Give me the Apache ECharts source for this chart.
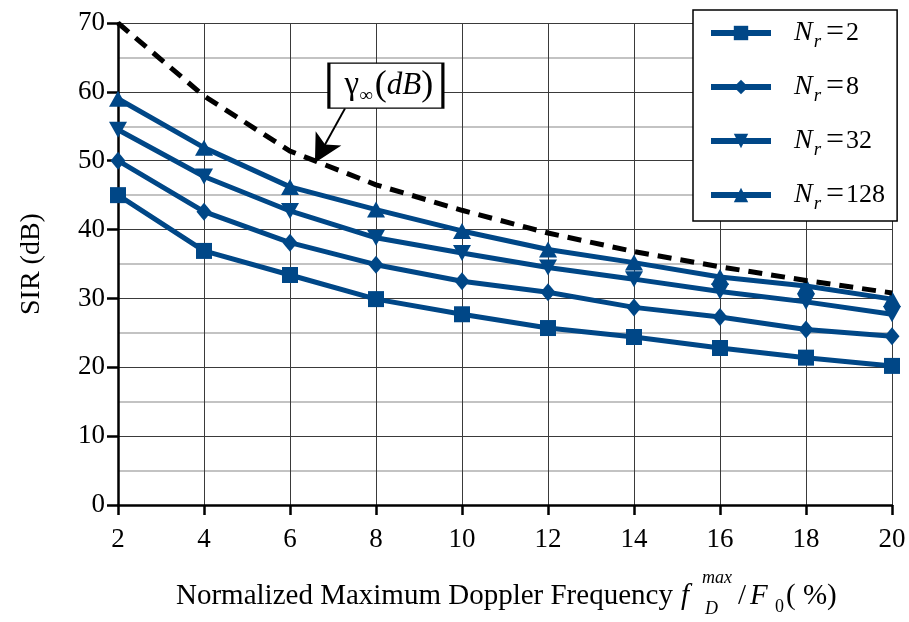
<!DOCTYPE html>
<html>
<head>
<meta charset="utf-8">
<script src="https://cdn.jsdelivr.net/npm/echarts@6/dist/echarts.min.js"></script>
<style>html,body{margin:0;padding:0;background:#fff}#c{width:909px;height:622px}</style>
</head>
<body>
<div id="c"></div>
<script>
const xValues = [2, 4, 6, 8, 10, 12, 14, 16, 18, 20];
const nr2   = [45.0, 36.9, 33.4, 29.9, 27.7, 25.7, 24.4, 22.8, 21.4, 20.2];
const nr8   = [50.0, 42.6, 38.1, 34.9, 32.5, 30.9, 28.7, 27.3, 25.5, 24.5];
const nr32  = [54.5, 47.7, 42.7, 38.8, 36.6, 34.5, 32.8, 31.0, 29.5, 27.7];
const nr128 = [59.0, 51.9, 46.2, 42.9, 39.8, 37.1, 35.2, 33.1, 31.8, 29.9];
const gammaInf = [70.0, 59.4, 51.4, 46.5, 42.8, 39.5, 36.8, 34.6, 32.6, 30.8];
const seriesNames = ['Nr=2', 'Nr=8', 'Nr=32', 'Nr=128'];
const legendNumbers = ['2', '8', '32', '128'];
const yTicks = [0, 10, 20, 30, 40, 50, 60, 70];
const annotBox = [8.23, 60.9];
const arrowFrom = [7.28, 57.6];
const arrowTo = [6.58, 49.7];

const BLUE = '#004787';
const FONT = '"Liberation Serif", "Times New Roman", serif';
const pair = arr => xValues.map((x, i) => [x, arr[i]]);

const chart = echarts.init(document.getElementById('c'), null, {renderer: 'canvas'});

function lineSeries(name, data, symbol, size, rotate) {
  return {
    name, type: 'line', data: pair(data),
    symbol, symbolSize: size, symbolRotate: rotate || 0,
    showSymbol: true,
    lineStyle: {color: BLUE, width: 5},
    itemStyle: {color: BLUE, borderWidth: 0},
    emphasis: {disabled: true},
    animation: false, z: 3
  };
}

const txt = (text, x, y, size, italic, extra) => Object.assign({
  type: 'text', x, y,
  style: {text, x: 0, y: 0, fontFamily: FONT, fontSize: size, fontStyle: italic ? 'italic' : 'normal',
    fill: '#000', verticalAlign: 'middle'}
}, extra || {});

const option = {
  animation: false,
  backgroundColor: '#fff',
  grid: {left: 118, right: 17, top: 23, bottom: 117},
  xAxis: {
    type: 'value', min: 2, max: 20, interval: 2,
    axisLine: {show: true, onZero: false, lineStyle: {color: '#000', width: 2.5}},
    axisTick: {show: true, length: 10, lineStyle: {color: '#000', width: 2.5}},
    axisLabel: {color: '#000', fontFamily: FONT, fontSize: 27, margin: 21},
    splitLine: {show: true, lineStyle: {color: '#3a3a3a', width: 1}}
  },
  yAxis: {
    type: 'value', min: 0, max: 70, interval: 10, splitNumber: 7,
    axisLine: {show: true, lineStyle: {color: '#000', width: 2.5}},
    axisTick: {show: true, length: 11, lineStyle: {color: '#000', width: 2.5}},
    axisLabel: {color: '#000', fontFamily: FONT, fontSize: 27, margin: 13,
      formatter: v => yTicks.includes(v) ? String(v) : ''},
    splitLine: {show: true, lineStyle: {color: '#3a3a3a', width: 1}},
    minorTick: {show: false, splitNumber: 2},
    minorSplitLine: {show: true, lineStyle: {color: '#b0b0b0', width: 1.5}}
  },
  legend: {
    data: seriesNames,
    orient: 'vertical', left: 693, top: 10,
    padding: [7, 12, 8, 15],
    itemWidth: 60, itemHeight: 18, itemGap: 20,
    lineStyle: {width: 6},
    backgroundColor: '#fff', borderColor: '#000', borderWidth: 1.5, borderRadius: 0,
    formatter: name => '{n|N}{s|r}{e|=}{v|' + legendNumbers[seriesNames.indexOf(name)] + '}',
    textStyle: {
      color: '#000', fontFamily: FONT,
      rich: {
        n: {fontFamily: FONT, fontStyle: 'italic', fontSize: 28, color: '#000', padding: [0, 0, 0, 18], lineHeight: 36, verticalAlign: 'middle'},
        s: {fontFamily: FONT, fontStyle: 'italic', fontSize: 19, color: '#000', lineHeight: 2, verticalAlign: 'bottom', padding: [0, 5, 0, 1]},
        e: {fontFamily: FONT, fontSize: 32, color: '#000', lineHeight: 36, verticalAlign: 'middle', padding: [0, 2, 0, 0]},
        v: {fontFamily: FONT, fontSize: 26, color: '#000', lineHeight: 36, verticalAlign: 'middle'}
      }
    }
  },
  series: [
    {
      name: 'gamma', type: 'line', data: pair(gammaInf),
      symbol: 'none', z: 4,
      lineStyle: {color: '#000', width: 5, type: [14, 9]},
      emphasis: {disabled: true},
      markLine: {
        silent: true, symbol: ['none', 'arrow'], symbolSize: [22, 28],
        lineStyle: {color: '#000', width: 2, type: 'solid'},
        label: {show: false},
        data: [[{coord: arrowFrom}, {coord: arrowTo}]],
        animation: false
      },
      markPoint: {
        silent: true, symbol: 'rect', symbolSize: [114, 45],
        itemStyle: {color: '#fff', borderColor: '#000', borderWidth: 2},
        label: {
          show: true, position: 'inside', offset: [3, 0],
          formatter: '{g|γ}{s|∞}{p|(}{i|dB}{p|)}',
          rich: {
            g: {fontFamily: FONT, fontSize: 33, color: '#000', lineHeight: 40, verticalAlign: 'middle'},
            s: {fontFamily: FONT, fontSize: 19, color: '#000', lineHeight: 14, verticalAlign: 'bottom', padding: [0, 2, 0, 0]},
            p: {fontFamily: FONT, fontSize: 36, color: '#000', lineHeight: 40, verticalAlign: 'middle'},
            i: {fontFamily: FONT, fontStyle: 'italic', fontSize: 31, color: '#000', lineHeight: 40, verticalAlign: 'middle'}
          }
        },
        data: [{coord: annotBox}],
        animation: false
      }
    },
    lineSeries(seriesNames[0], nr2, 'rect', 16),
    lineSeries(seriesNames[1], nr8, 'diamond', [15, 18]),
    lineSeries(seriesNames[2], nr32, 'triangle', [18, 16], 180),
    lineSeries(seriesNames[3], nr128, 'triangle', [18, 16])
  ],
  graphic: [
    {type: 'group', silent: true, children: [
      {type: 'text', x: 32, y: 264, rotation: Math.PI / 2,
        style: {text: 'SIR (dB)', x: 0, y: 0, fontFamily: FONT, fontSize: 28, fill: '#000', align: 'center', verticalAlign: 'middle'}},
      txt('Normalized Maximum Doppler Frequency', 176, 596, 29, false),
      txt('f', 681, 596, 29, true),
      txt('max', 702, 578, 18, true),
      txt('D', 705, 609, 18, true),
      txt('/', 738, 596, 29, false),
      txt('F', 750, 596, 29, true),
      txt('0', 775, 607, 18, false),
      txt('( %)', 786, 596, 29, false)
    ]}
  ]
};
chart.setOption(option);
</script>
</body>
</html>
